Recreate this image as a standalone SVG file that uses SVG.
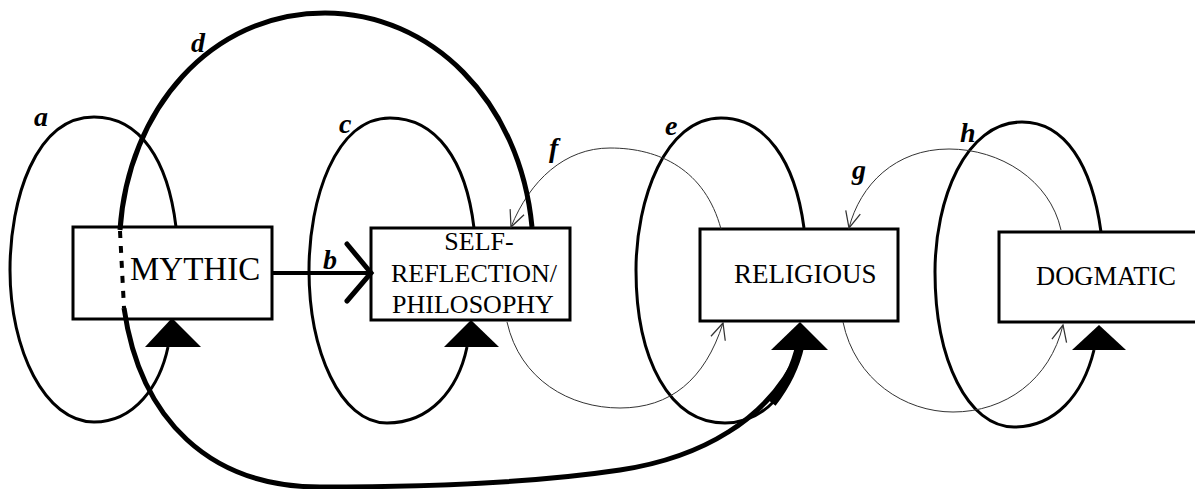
<svg xmlns="http://www.w3.org/2000/svg" width="1195" height="489" viewBox="0 0 1195 489">
<defs>
<style>
.box{fill:#fff;stroke:#000;stroke-width:3}
.nt{font-family:"Liberation Serif","Times New Roman",serif;fill:#000}
.lbl{font-family:"Liberation Serif","Times New Roman",serif;font-style:italic;font-weight:bold;font-size:28px;fill:#000}
.loop{fill:none;stroke:#000;stroke-width:3}
.thin{fill:none;stroke:#333;stroke-width:1;marker-end:url(#open)}
.thick{fill:none;stroke:#000;stroke-width:5}
.tri{fill:#000}
</style>
<marker id="open" markerUnits="userSpaceOnUse" markerWidth="20" markerHeight="20" refX="0" refY="0" viewBox="-14 -8 16 16" orient="auto">
<path d="M-13,-6 L0,0 L-13,6" fill="none" stroke="#333" stroke-width="1"/>
</marker>
</defs>
<rect width="1195" height="489" fill="#fff"/>
<g id="mythic">
<rect class="box" x="73" y="227" width="199" height="92"/>
<text class="nt" x="130" y="280" font-size="33">MYTHIC</text>
<polygon class="tri" points="172,318 145,347 201,347"/>
</g>
<g id="self-reflection">
<rect class="box" x="371" y="228" width="199" height="92"/>
<text class="nt" x="479" y="250" font-size="26" text-anchor="middle">SELF-</text>
<text class="nt" x="474" y="282" font-size="26" text-anchor="middle">REFLECTION/</text>
<text class="nt" x="473" y="313" font-size="26" text-anchor="middle">PHILOSOPHY</text>
<polygon class="tri" points="471,320 444,347 499,347"/>
</g>
<g id="religious">
<rect class="box" x="700" y="229" width="198" height="92"/>
<text class="nt" x="734" y="283" font-size="27">RELIGIOUS</text>
<polygon class="tri" points="800,322 771,350 828,350"/>
</g>
<g id="dogmatic">
<rect class="box" x="999" y="232" width="200" height="90"/>
<text class="nt" x="1036" y="285" font-size="26.5">DOGMATIC</text>
<polygon class="tri" points="1099,325 1072,350 1126,350"/>
</g>
<g id="connectors">
<path class="loop" d="M176,227 C168,160 140,117 94,117 C35,117 10,200 10,270 C10,350 45,422 94,422 C135,422 160,385 168,347"/>
<path class="loop" d="M474,228 C466,160 436,118 390,118 C335,118 309,200 309,270 C309,350 340,423 387,423 C430,423 458,390 467,347"/>
<path class="loop" d="M804,228 C795,160 765,118 721,118 C665,118 636,200 636,270 C636,360 670,423 725,423 C765,423 790,390 800,350"/>
<path class="loop" d="M1101,232 C1092,165 1065,122 1022,122 C965,122 935,200 935,272 C935,360 968,427 1014,427 C1055,427 1083,395 1094,350"/>
<path class="thin" d="M721,229 C705,170 660,148 610,148 C565,148 530,180 511,227"/>
<path class="thin" d="M507,322 C520,380 570,408 620,408 C670,408 705,380 723,323"/>
<path class="thin" d="M1061,230 C1050,180 1000,149 949,149 C895,149 860,185 849,228"/>
<path class="thin" d="M843,322 C855,380 905,412 953,412 C1005,412 1050,380 1063,325"/>
<path class="thick" d="M532,227 C520,100 430,13 325,13 C210,13 128,110 120,230"/>
<path class="thick" d="M124,308 C140,420 210,487 320,487 C430,487 540,482 620,470 C700,458 770,420 800,350"/>
<path fill="none" stroke="#000" stroke-width="9" d="M772,403 C786,385 795,368 800,345"/>
<path fill="none" stroke="#000" stroke-width="4" stroke-dasharray="7,8" d="M120,231 L124,308"/>
<path fill="none" stroke="#000" stroke-width="4" d="M272,273 L370,273"/>
<path fill="none" stroke="#000" stroke-width="5" stroke-linecap="round" d="M347,244 L371,273 L347,301"/>
</g>
<g id="labels">
<text class="lbl" x="34" y="126">a</text>
<text class="lbl" x="323" y="269">b</text>
<text class="lbl" x="339" y="133">c</text>
<text class="lbl" x="191" y="52">d</text>
<text class="lbl" x="665" y="135">e</text>
<text class="lbl" x="549" y="157">f</text>
<text class="lbl" x="852" y="179">g</text>
<text class="lbl" x="960" y="142">h</text>
</g>
</svg>
